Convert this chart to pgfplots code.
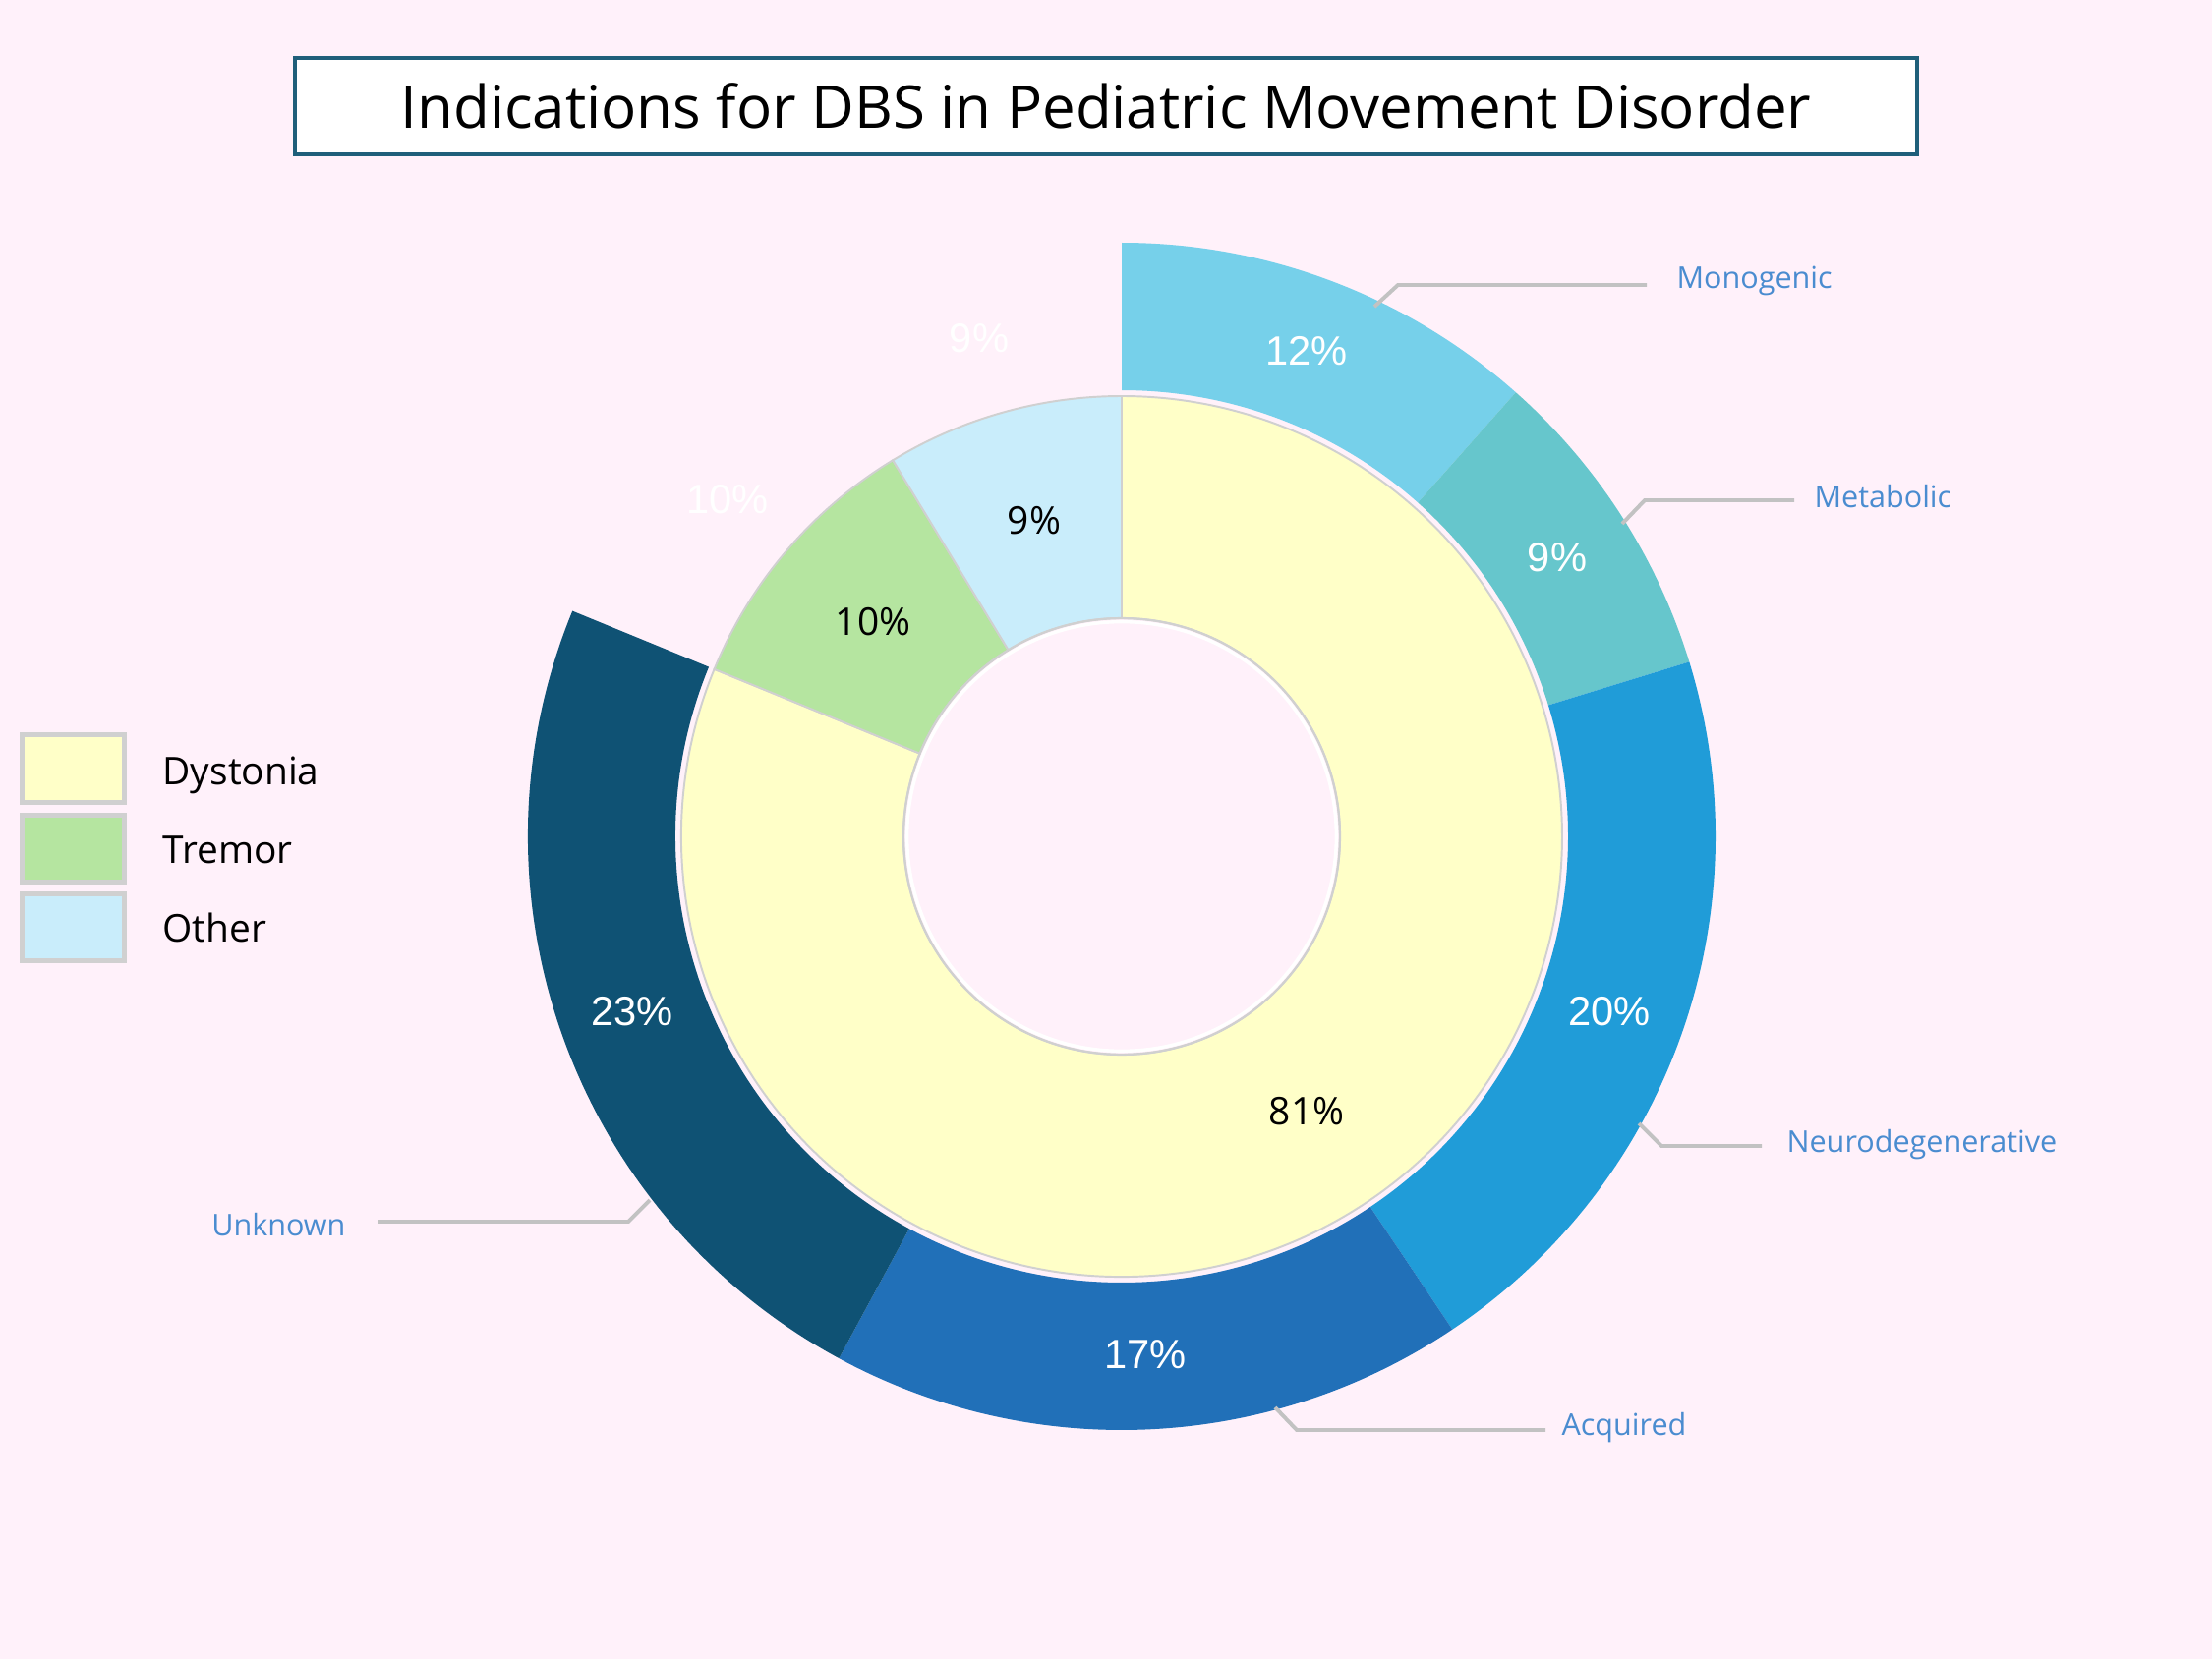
\documentclass[border=0pt]{standalone}
\usepackage{pgfplots}
\pgfplotsset{compat=1.18}
\usepackage{fontspec}
\setmainfont{Open Sans}
\newfontfamily\pctfont{Liberation Sans}

\definecolor{bg}{HTML}{FFF1FA}
\definecolor{titleline}{HTML}{1F5F7A}
\definecolor{monogenic}{HTML}{76D0EA}
\definecolor{metabolic}{HTML}{66C6CC}
\definecolor{neurodeg}{HTML}{209CD8}
\definecolor{acquired}{HTML}{2170B8}
\definecolor{unknown}{HTML}{0F5274}
\definecolor{dystonia}{HTML}{FFFFC8}
\definecolor{tremor}{HTML}{B5E5A0}
\definecolor{other}{HTML}{C9EDFB}
\definecolor{edge}{HTML}{D0D0D0}
\definecolor{leader}{HTML}{C2C2C2}
\definecolor{lbl}{HTML}{4A8CD0}

% annular sector: #1 start (%), #2 share (%), #3 inner r, #4 outer r (px), #5 style
\newcommand\sector[5]{%
  \path[#5]
    ([shift={(canvas polar cs:angle={90-3.6*#1},radius={#3*0.36pt})}]axis cs:1141,851)
    arc[start angle={90-3.6*#1}, end angle={90-3.6*(#1+#2)}, radius={#3*0.36pt}]
    -- ([shift={(canvas polar cs:angle={90-3.6*(#1+#2)},radius={#4*0.36pt})}]axis cs:1141,851)
    arc[start angle={90-3.6*(#1+#2)}, end angle={90-3.6*#1}, radius={#4*0.36pt}]
    -- cycle;}

\begin{document}
\begin{tikzpicture}
\begin{axis}[
    scale only axis,
    width=810pt, height=607.68pt,
    xmin=0, xmax=2250, ymin=0, ymax=1688,
    y dir=reverse,
    hide axis, clip=false,
  ]
  \fill[bg] (axis cs:0,0) rectangle (axis cs:2250,1688);

  % outer ring (subtypes of dystonia): start, share
  \sector{0}{11.55}{454}{604}{fill=monogenic}
  \sector{11.55}{8.7}{454}{604}{fill=metabolic}
  \sector{20.25}{20.35}{454}{604}{fill=neurodeg}
  \sector{40.6}{17.3}{454}{604}{fill=acquired}
  \sector{57.9}{23.3}{454}{604}{fill=unknown}

  % inner ring
  \sector{0}{81.2}{222}{448}{fill=dystonia, draw=edge, line width=0.7pt}
  \sector{81.2}{10.1}{222}{448}{fill=tremor, draw=edge, line width=0.7pt}
  \sector{91.3}{8.7}{222}{448}{fill=other, draw=edge, line width=0.7pt}

  % hole
  \path[draw=white, line width=1.2pt]
    ([shift={(canvas polar cs:angle=0,radius=78.6pt)}]axis cs:1141,851)
    arc[start angle=0, end angle=360, radius=78.6pt];
  \path[draw=edge, line width=0.8pt]
    ([shift={(canvas polar cs:angle=0,radius=79.9pt)}]axis cs:1141,851)
    arc[start angle=0, end angle=360, radius=79.9pt];

  % inner labels
  \node[font=\fontsize{14}{16}\selectfont] at (axis cs:1052,530) {9\%};
  \node[font=\fontsize{14}{16}\selectfont] at (axis cs:888,633) {10\%};
  \node[font=\fontsize{14}{16}\selectfont] at (axis cs:1329,1131) {81\%};

  % outer labels
  \begin{scope}[every node/.style={text=white, font=\pctfont\fontsize{15}{17}\selectfont}]
    \node at (axis cs:1329,357) {12\%};
    \node at (axis cs:1584,567) {9\%};
    \node at (axis cs:1637,1029) {20\%};
    \node at (axis cs:1165,1378) {17\%};
    \node at (axis cs:643,1029) {23\%};
    \node at (axis cs:996,344) {9\%};
    \node at (axis cs:740,508) {10\%};
  \end{scope}

  % leader lines
  \begin{scope}[leader, line width=1.4pt]
    \draw (axis cs:1398,312) -- (axis cs:1422,290) -- (axis cs:1675,290);
    \draw (axis cs:1650,533) -- (axis cs:1673,509) -- (axis cs:1825,509);
    \draw (axis cs:1667,1143) -- (axis cs:1690,1166) -- (axis cs:1792,1166);
    \draw (axis cs:1297,1432) -- (axis cs:1319,1455) -- (axis cs:1572,1455);
    \draw (axis cs:661,1221) -- (axis cs:639,1243) -- (axis cs:385,1243);
  \end{scope}
  \begin{scope}[every node/.style={text=lbl, font=\fontsize{11}{13}\selectfont, inner sep=0pt}]
    \node[anchor=base west] at (axis cs:1705,294) {Monogenic};
    \node[anchor=base west] at (axis cs:1845,517) {Metabolic};
    \node[anchor=base west] at (axis cs:1817,1172) {Neurodegenerative};
    \node[anchor=base west] at (axis cs:1588,1460) {Acquired};
    \node[anchor=base east] at (axis cs:352,1257) {Unknown};
  \end{scope}

  % legend
  \draw[edge, line width=1.8pt, fill=dystonia] (axis cs:22.5,747.5) rectangle (axis cs:126.5,816.5);
  \draw[edge, line width=1.8pt, fill=tremor] (axis cs:22.5,829.5) rectangle (axis cs:126.5,897.5);
  \draw[edge, line width=1.8pt, fill=other] (axis cs:22.5,909.5) rectangle (axis cs:126.5,977.5);
  \begin{scope}[every node/.style={font=\fontsize{14}{16}\selectfont, inner sep=0pt, anchor=base west}]
    \node at (axis cs:165,798) {Dystonia};
    \node at (axis cs:165,878) {Tremor};
    \node at (axis cs:165,958) {Other};
  \end{scope}

  % title
  \node[draw=titleline, line width=1.44pt, fill=white, minimum width=594pt,
        minimum height=35.3pt, inner sep=0pt, font=\fontsize{21.6}{26}\selectfont]
    at (axis cs:1125,108) {Indications for DBS in Pediatric Movement Disorder};
\end{axis}
\end{tikzpicture}
\end{document}
